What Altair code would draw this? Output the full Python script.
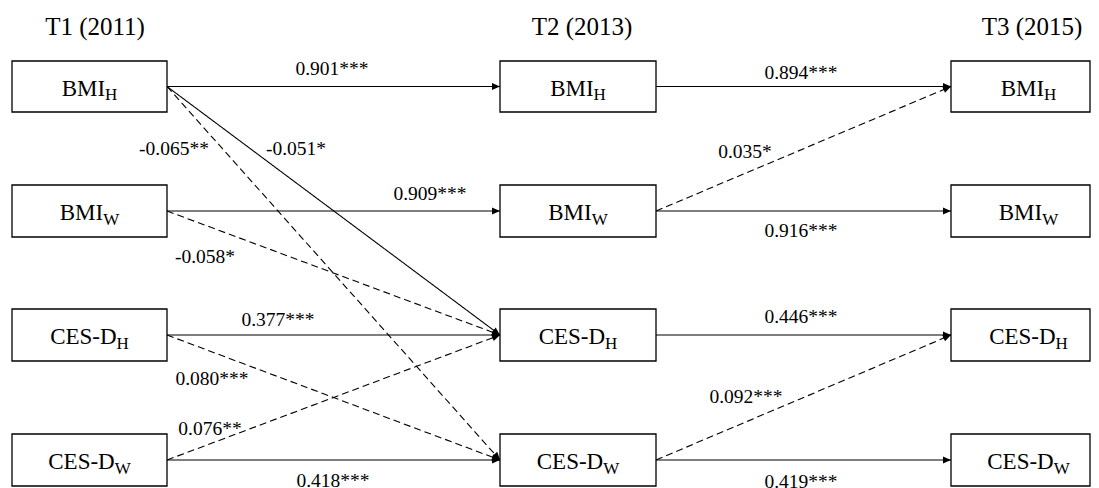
import math
import altair as alt
import pandas as pd

# ---------------- data ----------------
waves = ["T1 (2011)", "T2 (2013)", "T3 (2015)"]
measures = ["BMI", "BMI", "CES-D", "CES-D"]
partners = ["H", "W", "H", "W"]

edge_from_wave = [0, 0, 0, 0, 0, 0, 0, 0, 0, 1, 1, 1, 1, 1, 1]
edge_from_row = [0, 0, 0, 1, 1, 2, 2, 3, 3, 0, 1, 1, 2, 3, 3]
edge_to_row = [0, 2, 3, 1, 2, 2, 3, 2, 3, 0, 0, 1, 2, 2, 3]
coefficients = [0.901, -0.051, -0.065, 0.909, -0.058, 0.377, 0.080, 0.076, 0.418,
                0.894, 0.035, 0.916, 0.446, 0.092, 0.419]
stars = ["***", "*", "**", "***", "*", "***", "***", "**", "***",
         "***", "*", "***", "***", "***", "***"]
cross_partner = [False, False, True, False, True, False, True, True, False,
                 False, True, False, False, True, False]

# ---------------- layout (page pixels) ----------------
W, H = 1083, 480
VIEW_RIGHT = 8 + W - 1          # last visible page column
col_left = [12, 500, 951]
col_right = [167, 656, 1106]
row_top = [61, 185, 309, 434]
row_bottom = [112, 237, 361, 486]
header_x = [95, 582, 1032]
header_y = 35
label_xy = [(332, 75), (296, 155), (174, 155), (430, 200), (205, 263), (278, 326),
            (212, 385), (210, 435), (333, 487),
            (801, 79), (745, 158), (801, 237), (801, 323), (746, 403), (801, 488)]

FONT = "Liberation Serif"
MAIN_SIZE = 23
SUB_SIZE = 17
TIMES_W = {"B": .667, "M": .889, "I": .333, "C": .667, "E": .611, "S": .556,
           "-": .333, "D": .722, "H": .722, "W": .944}


def text_width(s, size):
    return sum(TIMES_W.get(ch, .5) for ch in s) * size


row_mid = [(t + b) / 2 for t, b in zip(row_top, row_bottom)]

# edges
edges = []
for i in range(len(coefficients)):
    c = edge_from_wave[i]
    x1, y1 = col_right[c], row_mid[edge_from_row[i]]
    x2, y2 = col_left[c + 1], row_mid[edge_to_row[i]]
    ang = math.degrees(math.atan2(y2 - y1, x2 - x1)) % 360
    edges.append({"x": x1, "y": y1, "x2": x2, "y2": y2, "angle": ang,
                  "style": "dashed" if cross_partner[i] else "solid",
                  "label": f"{coefficients[i]:.3f}{stars[i]}",
                  "lx": label_xy[i][0], "ly": label_xy[i][1]})
edf = pd.DataFrame(edges)

# boxes and labels
boxes, mains, subs = [], [], []
for c in range(len(waves)):
    for r in range(len(measures)):
        boxes.append({"x": col_left[c], "x2": min(col_right[c], VIEW_RIGHT),
                      "y": row_top[r], "y2": row_bottom[r]})
        wm = text_width(measures[r], MAIN_SIZE)
        ws = text_width(partners[r], SUB_SIZE)
        cx = (col_left[c] + col_right[c]) / 2
        left = cx - (wm + ws) / 2
        mains.append({"x": left, "y": row_mid[r] + 9, "t": measures[r]})
        subs.append({"x": left + wm, "y": row_mid[r] + 13.5, "t": partners[r]})
bdf = pd.DataFrame(boxes)
mdf = pd.DataFrame(mains)
sdf = pd.DataFrame(subs)
hdf = pd.DataFrame({"x": header_x, "y": [header_y] * 3, "t": waves})

xs = alt.Scale(domain=[8, 8 + W], zero=False, nice=False)
ys = alt.Scale(domain=[8, 8 + H], zero=False, nice=False, reverse=True)


def X(f="x"):
    return alt.X(f"{f}:Q", scale=xs, axis=None)


def Y(f="y"):
    return alt.Y(f"{f}:Q", scale=ys, axis=None)


lines = alt.Chart(edf).mark_rule(color="black", strokeWidth=1.1).encode(
    x=X(), y=Y(), x2="x2:Q", y2="y2:Q",
    strokeDash=alt.StrokeDash("style:N", scale=alt.Scale(domain=["solid", "dashed"],
                                                         range=[[1, 0], [7, 4]]), legend=None),
)

heads = alt.Chart(edf).mark_point(
    shape="M0,0L-1,-0.44L-1,0.44Z", filled=True, size=256, color="black", opacity=1, strokeWidth=0
).encode(x=X("x2"), y=Y("y2"), angle=alt.Angle("angle:Q", scale=None))

rects = alt.Chart(bdf).mark_rect(fill="white", stroke="black", strokeWidth=1.3).encode(
    x=X(), x2="x2:Q", y=Y(), y2="y2:Q")

main_txt = alt.Chart(mdf).mark_text(font=FONT, fontSize=MAIN_SIZE, align="left",
                                    baseline="alphabetic", color="black").encode(
    x=X(), y=Y(), text="t:N")
sub_txt = alt.Chart(sdf).mark_text(font=FONT, fontSize=SUB_SIZE, align="left",
                                   baseline="alphabetic", color="black").encode(
    x=X(), y=Y(), text="t:N")
hdr_txt = alt.Chart(hdf).mark_text(font=FONT, fontSize=25, align="center",
                                   baseline="alphabetic", color="black").encode(
    x=X(), y=Y(), text="t:N")
coef_txt = alt.Chart(edf).mark_text(font=FONT, fontSize=19.5, align="center",
                                    baseline="alphabetic", color="black").encode(
    x=X("lx"), y=Y("ly"), text="label:N")

chart = alt.layer(lines, rects, heads, main_txt, sub_txt, hdr_txt, coef_txt).properties(
    width=W, height=H, padding=0, autosize=alt.AutoSizeParams(type="none"),
    background="white"
).configure_view(stroke=None)

chart.save("out.html", embed_options={"renderer": "svg", "actions": False})
